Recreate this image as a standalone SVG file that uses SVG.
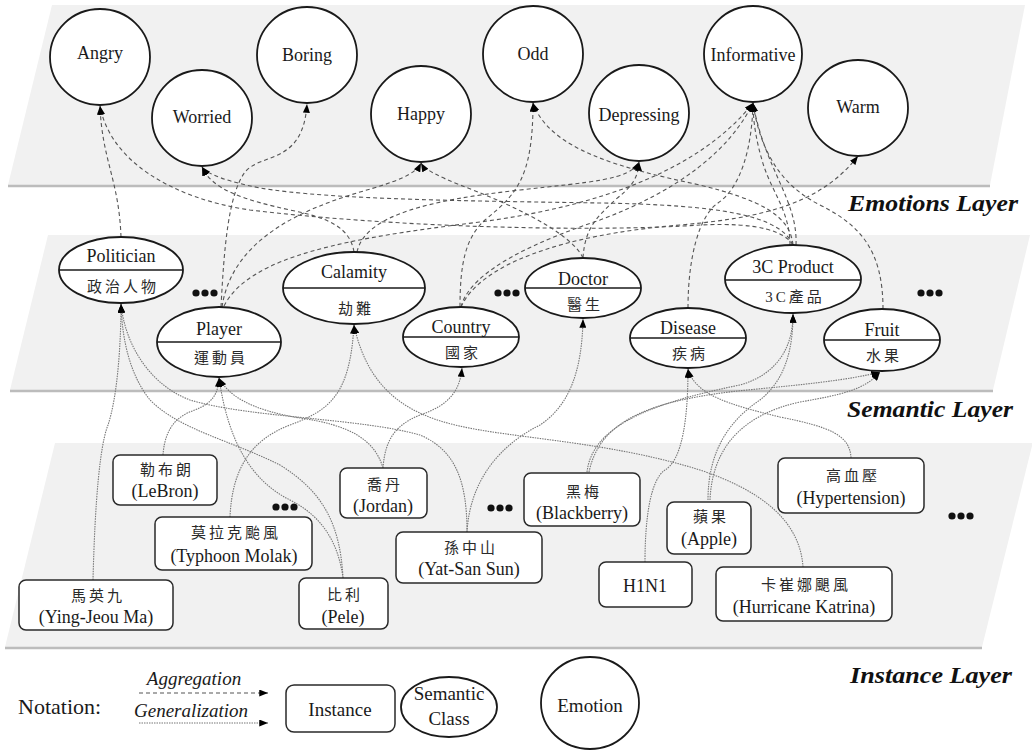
<svg xmlns="http://www.w3.org/2000/svg" width="1032" height="752" viewBox="0 0 1032 752">
<defs>
<marker id="ah" viewBox="0 0 10 8" refX="10" refY="4" markerWidth="9" markerHeight="7" orient="auto" markerUnits="userSpaceOnUse"><path d="M0,0 L10,4 L0,8 z" fill="#000"/></marker>
<style>
.layer{fill:#f1f1f1;stroke:none}
.shadow{fill:none;stroke:#bcbcbc;stroke-width:2.5}
.emo{fill:#fff;stroke:#1a1a1a;stroke-width:1.8}
.sem{fill:#fff;stroke:#1a1a1a;stroke-width:1.8}
.div{stroke:#1a1a1a;stroke-width:1.6}
.inst{fill:#fff;stroke:#2a2a2a;stroke-width:1.5}
.t{font-family:"Liberation Serif","Times New Roman",serif;font-size:18px;fill:#1a1a1a;text-anchor:middle}
.zh{font-family:"Liberation Serif","Noto Sans CJK TC",serif;font-size:15px;fill:#2a2a2a;text-anchor:middle;letter-spacing:3px}
.lay{font-family:"Liberation Serif","Times New Roman",serif;font-size:23px;font-weight:bold;font-style:italic;fill:#111}
.agg{fill:none;stroke:#555;stroke-width:1.1;stroke-dasharray:4 3;marker-end:url(#ah)}
.gen{fill:none;stroke:#777;stroke-width:1.1;stroke-dasharray:1.5 1;marker-end:url(#ah)}
.dot{fill:#111}
.n{font-family:"Liberation Serif","Times New Roman",serif;font-size:19px;fill:#1a1a1a}
</style>
</defs>

<g id="layers">
<polygon class="layer" points="52,5 1025,5 990,185 8,185"/>
<line class="shadow" x1="8" y1="186" x2="990" y2="186"/>
<polygon class="layer" points="48,235 1030,235 993,390 10,390"/>
<line class="shadow" x1="10" y1="391" x2="993" y2="391"/>
<polygon class="layer" points="55,443 1032,443 1032,446 982,647 5,647"/>
<line class="shadow" x1="5" y1="648" x2="982" y2="648"/>
<text class="lay" x="848" y="211" textLength="170" lengthAdjust="spacingAndGlyphs">Emotions Layer</text>
<text class="lay" x="847" y="417" textLength="166" lengthAdjust="spacingAndGlyphs">Semantic Layer</text>
<text class="lay" x="850" y="683" textLength="162" lengthAdjust="spacingAndGlyphs">Instance Layer</text>
</g>

<g id="connectors">
<!-- aggregation: semantic class -> emotion -->
<path class="agg" d="M121,237 C119,180 102,160 100,106"/>
<path class="agg" d="M221,307 C224,250 228,195 245,172 C262,152 303,165 307,104"/>
<path class="agg" d="M222,307 C232,240 300,210 360,192 C395,182 415,175 421,163"/>
<path class="agg" d="M224,306 C250,255 350,238 480,222 C600,206 700,170 753,103"/>
<path class="agg" d="M354,252 C350,228 330,218 290,210 C245,200 212,190 202,167"/>
<path class="agg" d="M357,252 C365,215 430,200 520,190 C590,182 630,180 639,162"/>
<path class="agg" d="M793,245 C785,232 760,222 700,225 C600,232 400,228 250,210 C170,198 110,160 100,106"/>
<path class="agg" d="M793,245 C780,215 720,205 600,203 C480,201 330,200 260,188 C230,182 208,175 202,167"/>
<path class="agg" d="M460,307 C460,265 465,238 485,220 C515,195 533,180 533,103"/>
<path class="agg" d="M793,245 C790,215 760,200 700,185 C620,168 550,150 533,103"/>
<path class="agg" d="M583,258 C585,225 600,215 615,200 C630,188 638,180 639,162"/>
<path class="agg" d="M583,258 C570,230 500,200 460,185 C440,177 425,170 421,163"/>
<path class="agg" d="M688,308 C688,255 700,215 718,203 C740,188 752,150 753,103"/>
<path class="agg" d="M790,245 C790,210 770,190 762,160 C756,140 753,120 753,103"/>
<path class="agg" d="M796,245 C798,200 765,170 753,103"/>
<path class="agg" d="M883,309 C883,250 860,225 820,205 C780,185 760,150 753,103"/>
<path class="agg" d="M461,307 C470,270 540,240 600,220 C680,190 730,150 753,103"/>
<path class="agg" d="M461,307 C480,265 560,235 680,225 C760,218 820,205 858,156"/>
<!-- generalization: instance -> semantic class -->
<path class="gen" d="M93,580 C95,500 100,445 108,425 C118,395 121,340 121,304"/>
<path class="gen" d="M343,578 C340,520 320,490 280,465 C230,440 180,430 150,400 C130,375 122,340 121,304"/>
<path class="gen" d="M467,532 C467,480 455,450 420,435 C360,418 250,418 190,400 C150,385 125,345 121,304"/>
<path class="gen" d="M467,532 C470,480 500,445 540,425 C570,405 582,370 583,319"/>
<path class="gen" d="M163,455 C165,425 180,415 195,410 C212,403 218,395 219,378"/>
<path class="gen" d="M343,578 C338,540 320,515 290,500 C250,480 228,440 219,378"/>
<path class="gen" d="M383,468 C375,440 350,425 300,418 C250,410 228,395 219,378"/>
<path class="gen" d="M383,468 C385,440 395,425 420,415 C450,405 460,390 462,368"/>
<path class="gen" d="M230,517 C232,470 250,440 290,425 C330,410 350,395 354,325"/>
<path class="gen" d="M803,567 C800,520 760,490 700,470 C620,445 540,440 480,430 C420,420 370,400 354,325"/>
<path class="gen" d="M645,562 C645,520 650,480 665,470 C682,460 688,420 688,369"/>
<path class="gen" d="M851,458 C850,435 830,427 780,417 C730,405 695,395 688,369"/>
<path class="gen" d="M587,472 C592,430 640,405 740,385 C775,375 793,350 793,314"/>
<path class="gen" d="M589,472 C600,420 650,400 747,390 C800,385 850,380 880,372"/>
<path class="gen" d="M708,500 C708,450 730,420 760,400 C785,380 793,350 793,314"/>
<path class="gen" d="M710,500 C712,450 740,415 800,402 C840,395 865,390 880,372"/>
</g>

<g id="emo-angry"><ellipse class="emo" cx="100" cy="57" rx="50" ry="48"/><text class="t" x="100" y="59">Angry</text></g>
<g id="emo-worried"><ellipse class="emo" cx="202" cy="118" rx="50" ry="48"/><text class="t" x="202" y="123">Worried</text></g>
<g id="emo-boring"><ellipse class="emo" cx="307" cy="55" rx="50" ry="48"/><text class="t" x="307" y="61">Boring</text></g>
<g id="emo-happy"><ellipse class="emo" cx="421" cy="114" rx="50" ry="48"/><text class="t" x="421" y="120">Happy</text></g>
<g id="emo-odd"><ellipse class="emo" cx="533" cy="54" rx="50" ry="48"/><text class="t" x="533" y="60">Odd</text></g>
<g id="emo-depressing"><ellipse class="emo" cx="639" cy="113" rx="50" ry="48"/><text class="t" x="639" y="121">Depressing</text></g>
<g id="emo-informative"><ellipse class="emo" cx="753" cy="54" rx="49" ry="48"/><text class="t" x="753" y="61">Informative</text></g>
<g id="emo-warm"><ellipse class="emo" cx="858" cy="108" rx="50" ry="48"/><text class="t" x="858" y="113">Warm</text></g>

<g id="sem-politician"><ellipse class="sem" cx="121" cy="270" rx="62" ry="33"/><line class="div" x1="59" y1="270" x2="183" y2="270"/><text class="t" x="121" y="262">Politician</text><text class="zh" x="123" y="292">政治人物</text></g>
<g id="sem-player"><ellipse class="sem" cx="219" cy="342" rx="62" ry="35"/><line class="div" x1="157" y1="342" x2="281" y2="342"/><text class="t" x="219" y="335">Player</text><text class="zh" x="221" y="363">運動員</text></g>
<g id="sem-calamity"><ellipse class="sem" cx="354" cy="288" rx="71" ry="36"/><line class="div" x1="283" y1="288" x2="425" y2="288"/><text class="t" x="354" y="278">Calamity</text><text class="zh" x="356" y="314">劫難</text></g>
<g id="sem-country"><ellipse class="sem" cx="461" cy="337" rx="58" ry="30"/><line class="div" x1="403" y1="337" x2="519" y2="337"/><text class="t" x="461" y="333">Country</text><text class="zh" x="463" y="358">國家</text></g>
<g id="sem-doctor"><ellipse class="sem" cx="583" cy="288" rx="58" ry="30"/><line class="div" x1="525" y1="288" x2="641" y2="288"/><text class="t" x="583" y="285">Doctor</text><text class="zh" x="585" y="310">醫生</text></g>
<g id="sem-disease"><ellipse class="sem" cx="688" cy="338" rx="58" ry="30"/><line class="div" x1="630" y1="338" x2="746" y2="338"/><text class="t" x="688" y="334">Disease</text><text class="zh" x="690" y="359">疾病</text></g>
<g id="sem-3c"><ellipse class="sem" cx="793" cy="279" rx="68" ry="34"/><line class="div" x1="725" y1="280" x2="861" y2="280"/><text class="t" x="793" y="273">3C Product</text><text class="zh" x="795" y="302">3C產品</text></g>
<g id="sem-fruit"><ellipse class="sem" cx="882" cy="340" rx="58" ry="31"/><line class="div" x1="824" y1="340" x2="940" y2="340"/><text class="t" x="882" y="336">Fruit</text><text class="zh" x="884" y="361">水果</text></g>

<g id="dots-sem">
<circle class="dot" cx="196" cy="293" r="3.6"/><circle class="dot" cx="205" cy="293" r="3.6"/><circle class="dot" cx="214" cy="293" r="3.6"/>
<circle class="dot" cx="498" cy="293" r="3.6"/><circle class="dot" cx="507" cy="293" r="3.6"/><circle class="dot" cx="516" cy="293" r="3.6"/>
<circle class="dot" cx="921" cy="293" r="3.6"/><circle class="dot" cx="930" cy="293" r="3.6"/><circle class="dot" cx="939" cy="293" r="3.6"/>
</g>

<g id="inst-lebron"><rect class="inst" x="113" y="455" width="104" height="50" rx="7"/><text class="zh" x="167" y="475">勒布朗</text><text class="t" x="165" y="497">(LeBron)</text></g>
<g id="inst-molak"><rect class="inst" x="155" y="517" width="157" height="53" rx="7"/><text class="zh" x="236" y="538">莫拉克颱風</text><text class="t" x="234" y="562">(Typhoon Molak)</text></g>
<g id="inst-ma"><rect class="inst" x="19" y="580" width="154" height="50" rx="7"/><text class="zh" x="98" y="601">馬英九</text><text class="t" x="96" y="623">(Ying-Jeou Ma)</text></g>
<g id="inst-pele"><rect class="inst" x="299" y="578" width="89" height="51" rx="7"/><text class="zh" x="345" y="600">比利</text><text class="t" x="343" y="623">(Pele)</text></g>
<g id="inst-jordan"><rect class="inst" x="340" y="468" width="87" height="50" rx="7"/><text class="zh" x="385" y="490">喬丹</text><text class="t" x="383" y="512">(Jordan)</text></g>
<g id="inst-sun"><rect class="inst" x="396" y="532" width="146" height="51" rx="7"/><text class="zh" x="471" y="553">孫中山</text><text class="t" x="469" y="575">(Yat-San Sun)</text></g>
<g id="inst-blackberry"><rect class="inst" x="524" y="473" width="116" height="53" rx="7"/><text class="zh" x="584" y="497">黑梅</text><text class="t" x="582" y="519">(Blackberry)</text></g>
<g id="inst-apple"><rect class="inst" x="667" y="502" width="84" height="52" rx="7"/><text class="zh" x="711" y="522">蘋果</text><text class="t" x="709" y="545">(Apple)</text></g>
<g id="inst-h1n1"><rect class="inst" x="599" y="562" width="93" height="45" rx="7"/><text class="t" x="645" y="592">H1N1</text></g>
<g id="inst-katrina"><rect class="inst" x="716" y="567" width="176" height="54" rx="7"/><text class="zh" x="806" y="590">卡崔娜颶風</text><text class="t" x="804" y="613">(Hurricane Katrina)</text></g>
<g id="inst-hypertension"><rect class="inst" x="778" y="458" width="146" height="55" rx="7"/><text class="zh" x="853" y="481">高血壓</text><text class="t" x="851" y="504">(Hypertension)</text></g>

<g id="dots-inst">
<circle class="dot" cx="276" cy="507" r="3.6"/><circle class="dot" cx="285" cy="507" r="3.6"/><circle class="dot" cx="294" cy="507" r="3.6"/>
<circle class="dot" cx="491" cy="508" r="3.6"/><circle class="dot" cx="500" cy="508" r="3.6"/><circle class="dot" cx="509" cy="508" r="3.6"/>
<circle class="dot" cx="952" cy="516" r="3.6"/><circle class="dot" cx="961" cy="516" r="3.6"/><circle class="dot" cx="970" cy="516" r="3.6"/>
</g>

<g id="notation">
<text class="n" x="18" y="714" style="font-size:22px">Notation:</text>
<text class="n" x="194" y="685" style="font-style:italic;text-anchor:middle">Aggregation</text>
<path class="agg" d="M139,693 L268,693"/>
<text class="n" x="191" y="717" style="font-style:italic;text-anchor:middle">Generalization</text>
<path class="gen" d="M139,723 L268,723"/>
<rect class="inst" x="286" y="685" width="109" height="47" rx="8"/>
<text class="n" x="340" y="716" style="text-anchor:middle">Instance</text>
<ellipse class="sem" cx="449" cy="707" rx="48" ry="30"/>
<text class="n" x="449" y="700" style="text-anchor:middle">Semantic</text>
<text class="n" x="449" y="725" style="text-anchor:middle">Class</text>
<ellipse class="emo" cx="590" cy="703" rx="49" ry="46"/>
<text class="n" x="590" y="712" style="text-anchor:middle">Emotion</text>
</g>
</svg>
